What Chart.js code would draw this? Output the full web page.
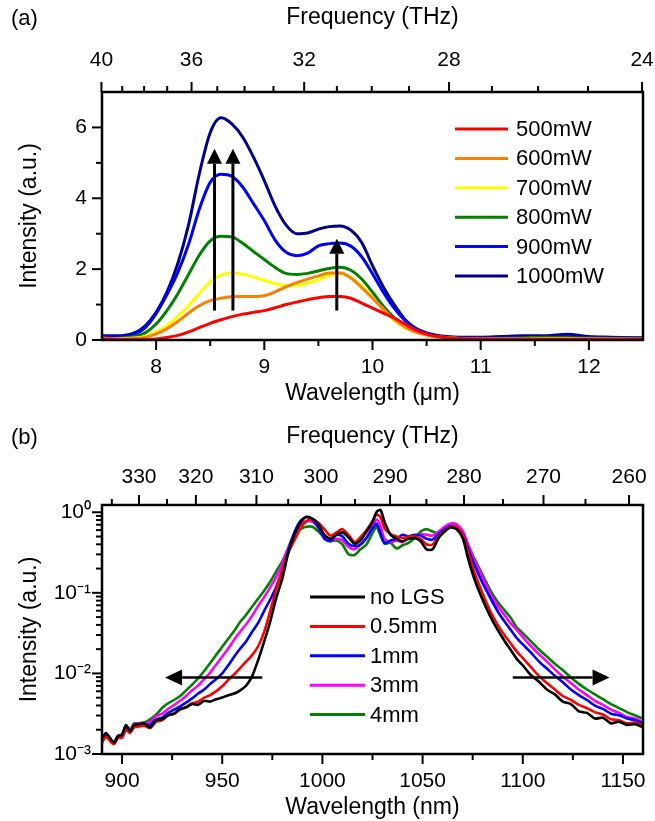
<!DOCTYPE html>
<html>
<head>
<meta charset="utf-8">
<script src="https://cdn.jsdelivr.net/npm/chart.js@4.4.1/dist/chart.umd.min.js"></script>
<style>
  html, body { margin: 0; padding: 0; background: #fff; }
  #page { position: relative; width: 655px; height: 821px; overflow: hidden; background: #fff; }
  #page canvas { position: absolute; left: 0; }
  #ca { top: 0; }
  #cb { top: 420px; }
  .tag { position: absolute; font-family: 'Liberation Sans', Arial, sans-serif; font-size: 22px; color: #000; line-height: 1; }
</style>
</head>
<body>
<div id="page">
  <canvas id="ca" width="655" height="420"></canvas>
  <canvas id="cb" width="655" height="401"></canvas>
  <div class="tag" style="left:11px;top:7px">(a)</div>
  <div class="tag" style="left:11px;top:426px">(b)</div>
</div>
<script>
// ---------- Panel (a): mid-IR spectra vs. pump power ----------
const wavelengthUm = [7.5, 7.6, 7.7, 7.8, 7.9, 8.0, 8.1, 8.2, 8.3, 8.4, 8.5, 8.6, 8.7, 8.8, 8.9, 9.0, 9.1, 9.2, 9.3, 9.4,
  9.5, 9.6, 9.7, 9.8, 9.9, 10.0, 10.1, 10.2, 10.3, 10.4, 10.5, 10.6, 10.8, 11.0, 11.2, 11.4, 11.6, 11.8, 12.0, 12.2, 12.5];
const powerLabels = ['500mW', '600mW', '700mW', '800mW', '900mW', '1000mW'];
const p500 = [0.03, 0.02, 0.01, 0.01, 0.01, 0.03, 0.07, 0.13, 0.23, 0.35, 0.47, 0.57, 0.66, 0.73, 0.78, 0.83, 0.91, 1.00, 1.07, 1.14,
  1.19, 1.23, 1.23, 1.18, 1.04, 0.90, 0.76, 0.62, 0.45, 0.28, 0.17, 0.10, 0.04, 0.03, 0.02, 0.02, 0.02, 0.02, 0.02, 0.02, 0.02];
const p600 = [0.06, 0.04, 0.03, 0.04, 0.07, 0.17, 0.32, 0.52, 0.76, 0.97, 1.11, 1.18, 1.22, 1.23, 1.23, 1.25, 1.36, 1.50, 1.62, 1.72,
  1.81, 1.89, 1.89, 1.75, 1.48, 1.18, 0.87, 0.58, 0.37, 0.22, 0.14, 0.09, 0.04, 0.03, 0.02, 0.02, 0.03, 0.03, 0.02, 0.02, 0.02];
const p700 = [0.03, 0.03, 0.04, 0.06, 0.10, 0.22, 0.40, 0.67, 0.97, 1.32, 1.65, 1.83, 1.90, 1.86, 1.78, 1.68, 1.59, 1.54, 1.54, 1.60,
  1.70, 1.82, 1.87, 1.76, 1.52, 1.20, 0.86, 0.55, 0.35, 0.22, 0.13, 0.08, 0.04, 0.03, 0.03, 0.03, 0.04, 0.04, 0.03, 0.03, 0.02];
const p800 = [0.04, 0.04, 0.06, 0.10, 0.20, 0.45, 0.83, 1.30, 1.85, 2.40, 2.80, 2.93, 2.91, 2.73, 2.50, 2.27, 2.05, 1.88, 1.85, 1.88,
  1.95, 2.02, 2.05, 1.97, 1.72, 1.35, 0.95, 0.63, 0.40, 0.24, 0.15, 0.10, 0.05, 0.03, 0.04, 0.06, 0.08, 0.07, 0.05, 0.04, 0.03];
const p900 = [0.10, 0.09, 0.10, 0.16, 0.35, 0.74, 1.28, 1.90, 2.70, 3.70, 4.45, 4.68, 4.62, 4.32, 3.85, 3.37, 2.82, 2.48, 2.38, 2.45,
  2.66, 2.72, 2.74, 2.65, 2.35, 1.87, 1.35, 0.90, 0.55, 0.32, 0.17, 0.10, 0.07, 0.06, 0.07, 0.08, 0.08, 0.09, 0.07, 0.06, 0.05];
const p1000 = [0.12, 0.12, 0.13, 0.20, 0.40, 0.78, 1.35, 2.15, 3.25, 4.70, 5.85, 6.27, 6.10, 5.73, 5.16, 4.50, 3.78, 3.25, 3.00, 3.02,
  3.13, 3.20, 3.22, 3.10, 2.75, 2.10, 1.50, 1.00, 0.58, 0.33, 0.20, 0.13, 0.08, 0.08, 0.10, 0.12, 0.12, 0.16, 0.10, 0.08, 0.06];
const powerColors = ['#ff0000', '#ff8000', '#ffff00', '#008000', '#0000ff', '#00008b'];
const powerSeries = [p500, p600, p700, p800, p900, p1000];

// top axis of (a): frequency ticks in THz
const freqTicksA = [40, 39, 38, 37, 36, 35, 34, 33, 32, 31, 30, 29, 28, 27, 26, 25, 24];
const freqLabelsA = [40, 36, 32, 28, 24];
// growth arrows of (a): [wavelength, from, to]
const arrowsA = [[8.54, 0.83, 5.4], [8.71, 0.83, 5.4], [9.67, 0.83, 2.86]];

// ---------- Panel (b): near-IR spectra with LGS crystal length ----------
const wavelengthNm = [890, 892, 894, 896, 898, 900, 902, 904, 906, 908, 911, 914, 917, 920, 923, 926, 929, 932, 935, 938,
  941, 944, 947, 950, 953, 956, 959, 962, 965, 968, 971, 974, 977, 980, 983, 986, 989, 992, 995, 998,
  1001, 1004, 1007, 1010, 1013, 1016, 1019, 1022, 1025, 1027, 1029, 1031, 1034, 1037, 1040, 1043, 1046, 1049, 1052, 1055,
  1058, 1061, 1064, 1067, 1070, 1073, 1076, 1079, 1082, 1085, 1088, 1091, 1094, 1097, 1100, 1104, 1108, 1112, 1116, 1120,
  1124, 1128, 1132, 1136, 1140, 1144, 1148, 1152, 1156, 1160];
const lgsLabels = ['no LGS', '0.5mm', '1mm', '3mm', '4mm'];
// intensities stored as log10 values
const log10NoLGS = [-2.80, -2.74, -2.80, -2.86, -2.78, -2.76, -2.64, -2.72, -2.64, -2.63,
  -2.62, -2.67, -2.58, -2.57, -2.52, -2.50, -2.44, -2.42, -2.38, -2.39,
  -2.34, -2.35, -2.32, -2.30, -2.27, -2.25, -2.21, -2.15, -2.03, -1.83,
  -1.60, -1.35, -1.06, -0.82, -0.50, -0.28, -0.13, -0.06, -0.08, -0.15,
  -0.28, -0.33, -0.28, -0.25, -0.31, -0.39, -0.35, -0.24, -0.12, 0.00,
  0.03, -0.12, -0.28, -0.33, -0.36, -0.33, -0.32, -0.36, -0.46, -0.46,
  -0.32, -0.24, -0.19, -0.21, -0.32, -0.60, -0.84, -1.03, -1.20, -1.35,
  -1.48, -1.60, -1.71, -1.82, -1.90, -2.02, -2.10, -2.20, -2.26, -2.35,
  -2.38, -2.47, -2.49, -2.56, -2.55, -2.62, -2.60, -2.64, -2.63, -2.67];
const log10L05 = [-2.86, -2.79, -2.84, -2.88, -2.80, -2.80, -2.70, -2.74, -2.67, -2.66,
  -2.65, -2.68, -2.60, -2.58, -2.52, -2.50, -2.45, -2.42, -2.37, -2.35,
  -2.30, -2.27, -2.22, -2.16, -2.08, -2.01, -1.93, -1.85, -1.77, -1.66,
  -1.48, -1.22, -0.95, -0.72, -0.50, -0.35, -0.20, -0.11, -0.09, -0.13,
  -0.21, -0.29, -0.25, -0.21, -0.28, -0.37, -0.31, -0.22, -0.11, -0.03,
  -0.06, -0.20, -0.27, -0.30, -0.32, -0.30, -0.30, -0.33, -0.40, -0.40,
  -0.30, -0.23, -0.18, -0.19, -0.28, -0.52, -0.76, -0.95, -1.13, -1.29,
  -1.42, -1.53, -1.63, -1.73, -1.81, -1.92, -2.03, -2.12, -2.20, -2.28,
  -2.33, -2.39, -2.43, -2.48, -2.51, -2.57, -2.58, -2.62, -2.61, -2.65];
const log10L1 = [-2.81, -2.76, -2.82, -2.86, -2.78, -2.77, -2.66, -2.72, -2.65, -2.64,
  -2.63, -2.64, -2.57, -2.55, -2.49, -2.45, -2.41, -2.36, -2.31, -2.25,
  -2.20, -2.13, -2.07, -2.00, -1.90, -1.79, -1.69, -1.60, -1.48, -1.37,
  -1.22, -1.08, -0.92, -0.72, -0.47, -0.25, -0.11, -0.06, -0.09, -0.19,
  -0.33, -0.36, -0.28, -0.30, -0.39, -0.42, -0.40, -0.32, -0.20, -0.14,
  -0.26, -0.38, -0.35, -0.33, -0.28, -0.30, -0.28, -0.29, -0.33, -0.34,
  -0.27, -0.21, -0.17, -0.20, -0.27, -0.47, -0.66, -0.83, -0.98, -1.12,
  -1.25, -1.36, -1.46, -1.56, -1.64, -1.74, -1.85, -1.94, -2.03, -2.11,
  -2.20, -2.27, -2.33, -2.40, -2.44, -2.50, -2.52, -2.56, -2.58, -2.62];
const log10L3 = [-2.82, -2.76, -2.82, -2.85, -2.77, -2.76, -2.65, -2.70, -2.63, -2.62,
  -2.62, -2.60, -2.53, -2.50, -2.44, -2.39, -2.34, -2.28, -2.21, -2.15,
  -2.07, -1.99, -1.89, -1.79, -1.69, -1.58, -1.48, -1.39, -1.28, -1.16,
  -1.05, -0.93, -0.80, -0.64, -0.44, -0.27, -0.15, -0.11, -0.12, -0.19,
  -0.29, -0.35, -0.33, -0.35, -0.43, -0.46, -0.40, -0.32, -0.17, -0.09,
  -0.17, -0.33, -0.37, -0.35, -0.37, -0.31, -0.30, -0.27, -0.28, -0.29,
  -0.24, -0.18, -0.14, -0.15, -0.23, -0.42, -0.60, -0.76, -0.92, -1.07,
  -1.18, -1.28, -1.38, -1.46, -1.55, -1.66, -1.76, -1.85, -1.95, -2.04,
  -2.12, -2.20, -2.27, -2.34, -2.39, -2.45, -2.49, -2.54, -2.56, -2.60];
const log10L4 = [-2.80, -2.76, -2.83, -2.87, -2.78, -2.76, -2.65, -2.70, -2.62, -2.62,
  -2.61, -2.57, -2.51, -2.43, -2.37, -2.33, -2.28, -2.21, -2.14, -2.06,
  -1.97, -1.87, -1.77, -1.67, -1.57, -1.47, -1.36, -1.27, -1.17, -1.07,
  -0.97, -0.86, -0.73, -0.61, -0.44, -0.27, -0.21, -0.18, -0.18, -0.24,
  -0.31, -0.36, -0.35, -0.40, -0.52, -0.53, -0.46, -0.40, -0.26, -0.18,
  -0.29, -0.39, -0.38, -0.45, -0.41, -0.38, -0.32, -0.24, -0.21, -0.24,
  -0.26, -0.22, -0.17, -0.17, -0.26, -0.43, -0.58, -0.73, -0.88, -1.02,
  -1.13, -1.22, -1.31, -1.43, -1.50, -1.60, -1.70, -1.79, -1.88, -1.96,
  -2.05, -2.13, -2.20, -2.26, -2.32, -2.38, -2.43, -2.48, -2.52, -2.56];
const lgsColors = ['#000000', '#ff0000', '#0000ff', '#ff00ff', '#008000'];
const lgsSeries = [log10NoLGS, log10L05, log10L1, log10L3, log10L4];

// top axis of (b): frequency ticks in THz
const freqTicksB = [335, 330, 325, 320, 315, 310, 305, 300, 295, 290, 285, 280, 275, 270, 265, 260];
const freqLabelsB = [330, 320, 310, 300, 290, 280, 270, 260];
// broadening arrows of (b): [y level, from wavelength, to wavelength]
const arrowsB = [[0.0089, 970, 921.5], [0.0089, 1095, 1143.3]];

// ---------- shared styling ----------
const FONT = "'Liberation Sans', Arial, sans-serif";
Chart.defaults.font.family = FONT;
Chart.defaults.color = '#000';
Chart.defaults.animation = false;
const TICK_FONT = { size: 21 };
const TITLE_FONT = { size: 23 };
const C_THZ_UM = 299.792458;     // THz * um
const C_THZ_NM = 299792.458;     // THz * nm
const NO_GRID = { display: false, drawTicks: false };

// tick marks (major longer than minor) and the closed plot frame
const axisFrame = {
  id: 'axisFrame',
  afterDatasetsDraw(chart) {
    const { ctx, chartArea: a } = chart;
    ctx.save();
    ctx.strokeStyle = '#000';
    Object.values(chart.scales).forEach(s => {
      s.ticks.forEach(t => {
        const p = s.getPixelForValue(t.value);
        const len = t.major ? 10 : 6;
        ctx.lineWidth = 2;
        ctx.beginPath();
        if (s.position === 'bottom') { ctx.moveTo(p, a.bottom); ctx.lineTo(p, a.bottom + len); }
        else if (s.position === 'top') { ctx.moveTo(p, a.top); ctx.lineTo(p, a.top - len); }
        else if (s.position === 'left') { ctx.moveTo(a.left, p); ctx.lineTo(a.left - len, p); }
        ctx.stroke();
      });
    });
    ctx.lineWidth = 2.5;
    ctx.strokeRect(a.left, a.top, a.right - a.left, a.bottom - a.top);
    ctx.restore();
  }
};

// legend drawn inside the plot area
const insideLegend = {
  id: 'insideLegend',
  afterDraw(chart, args, o) {
    const { ctx, chartArea: a } = chart;
    ctx.save();
    ctx.font = o.fontSize + 'px ' + FONT;
    ctx.textBaseline = 'middle';
    ctx.textAlign = 'left';
    chart.data.datasets.forEach((ds, i) => {
      const y = a.top + o.top + i * o.rowGap;
      const x0 = a.left + o.left;
      ctx.strokeStyle = ds.borderColor;
      ctx.lineWidth = o.lineWidth;
      ctx.beginPath(); ctx.moveTo(x0, y); ctx.lineTo(x0 + o.lineLen, y); ctx.stroke();
      ctx.fillStyle = '#000';
      ctx.fillText(ds.label, x0 + o.lineLen + o.gap, y + 1);
    });
    ctx.restore();
  }
};

// solid black arrows placed in data coordinates
function drawArrow(ctx, x0, y0, x1, y1, shaft, headLen, headW) {
  const ang = Math.atan2(y1 - y0, x1 - x0);
  const bx = x1 - headLen * Math.cos(ang), by = y1 - headLen * Math.sin(ang);
  ctx.lineWidth = shaft;
  ctx.beginPath(); ctx.moveTo(x0, y0); ctx.lineTo(bx, by); ctx.stroke();
  const nx = -Math.sin(ang) * headW / 2, ny = Math.cos(ang) * headW / 2;
  ctx.beginPath();
  ctx.moveTo(x1, y1); ctx.lineTo(bx + nx, by + ny); ctx.lineTo(bx - nx, by - ny); ctx.closePath();
  ctx.fill();
}
const arrowLayer = {
  id: 'arrowLayer',
  afterDatasetsDraw(chart, args, o) {
    const { ctx } = chart;
    const xs = chart.scales.x, ys = chart.scales.y;
    ctx.save();
    ctx.strokeStyle = '#000'; ctx.fillStyle = '#000';
    o.items.forEach(([x0, y0, x1, y1]) => {
      drawArrow(ctx, xs.getPixelForValue(x0), ys.getPixelForValue(y0),
        xs.getPixelForValue(x1), ys.getPixelForValue(y1), o.shaft, o.headLen, o.headW);
    });
    ctx.restore();
  }
};

function fixSize(prop, v) {
  return s => { s[prop] = v; s.paddingLeft = 0; s.paddingRight = 0; s.paddingTop = 0; s.paddingBottom = 0; };
}

// ---------- chart (a) ----------
new Chart(document.getElementById('ca'), {
  type: 'line',
  data: {
    datasets: powerSeries.map((vals, i) => ({
      label: powerLabels[i],
      data: wavelengthUm.map((x, k) => ({ x, y: vals[k] })),
      borderColor: powerColors[i],
      borderWidth: 3,
      pointRadius: 0,
      tension: 0.4,
      cubicInterpolationMode: 'monotone',
      fill: false
    }))
  },
  options: {
    responsive: false,
    layout: { padding: { left: 0, right: 12, top: 0, bottom: 0 } },
    plugins: {
      legend: { display: false }, tooltip: { enabled: false },
      insideLegend: { left: 353, top: 37, rowGap: 29.4, lineLen: 53, gap: 8, lineWidth: 3, fontSize: 22 },
      arrowLayer: { items: arrowsA.map(([x, a, b]) => [x, a, x, b]), shaft: 3, headLen: 15, headW: 15 }
    },
    scales: {
      x: {
        type: 'linear', position: 'bottom', min: 7.5, max: 12.5,
        grid: NO_GRID, border: { display: false },
        afterBuildTicks: s => { s.ticks = [8, 8.5, 9, 9.5, 10, 10.5, 11, 11.5, 12].map(v => ({ value: v, major: Number.isInteger(v) })); },
        ticks: { autoSkip: false, maxRotation: 0, padding: 15, font: TICK_FONT,
          callback: (v, i, t) => t[i].major ? String(v) : '' },
        title: { display: true, text: 'Wavelength (\u03bcm)', font: TITLE_FONT, padding: { top: 0, bottom: 13 } },
        afterFit: fixSize('height', 80)
      },
      xTop: {
        type: 'linear', position: 'top', min: 7.5, max: 12.5,
        grid: NO_GRID, border: { display: false },
        afterBuildTicks: s => { s.ticks = freqTicksA.map(f => ({ value: C_THZ_UM / f, freq: f, major: freqLabelsA.includes(f) })); },
        ticks: { autoSkip: false, maxRotation: 0, padding: 19, font: TICK_FONT,
          callback: (v, i, t) => t[i].major ? String(t[i].freq) : '' },
        title: { display: true, text: 'Frequency (THz)', font: TITLE_FONT, padding: { top: 4, bottom: 0 } },
        afterFit: fixSize('height', 92)
      },
      y: {
        type: 'linear', position: 'left', min: 0, max: 7,
        grid: NO_GRID, border: { display: false },
        afterBuildTicks: s => { s.ticks = [0, 1, 2, 3, 4, 5, 6].map(v => ({ value: v, major: v % 2 === 0 })); },
        ticks: { autoSkip: false, padding: 15, font: TICK_FONT,
          callback: (v, i, t) => t[i].major ? String(v) : '' },
        title: { display: true, text: 'Intensity (a.u.)', font: TITLE_FONT, padding: { top: 16, bottom: 0 } },
        afterFit: fixSize('width', 102)
      }
    }
  },
  plugins: [axisFrame, insideLegend, arrowLayer]
});

// ---------- chart (b) ----------
const SUP = { '0': '\u2070', '1': '\u00b9', '2': '\u00b2', '3': '\u00b3', '-': '\u207b' };
const decadeLabel = v => '10' + String(Math.round(Math.log10(v))).split('').map(c => SUP[c]).join('');
const logTicks = [];
[0.001, 0.01, 0.1].forEach(d => { for (let m = 1; m <= 9; m++) logTicks.push({ value: +(m * d).toPrecision(3), major: m === 1 }); });
logTicks.push({ value: 1, major: true });

new Chart(document.getElementById('cb'), {
  type: 'line',
  data: {
    datasets: lgsSeries.map((vals, i) => ({
      label: lgsLabels[i],
      data: wavelengthNm.map((x, k) => ({ x, y: Math.pow(10, vals[k]) })),
      borderColor: lgsColors[i],
      borderWidth: 2.6,
      pointRadius: 0,
      tension: 0.25,
      fill: false
    }))
  },
  options: {
    responsive: false,
    layout: { padding: { left: 0, right: 12, top: 0, bottom: 0 } },
    plugins: {
      legend: { display: false }, tooltip: { enabled: false },
      insideLegend: { left: 208, top: 92, rowGap: 29.4, lineLen: 55, gap: 5, lineWidth: 3, fontSize: 22 },
      arrowLayer: { items: arrowsB.map(([y, a, b]) => [a, y, b, y]), shaft: 2.6, headLen: 17, headW: 16 }
    },
    scales: {
      x: {
        type: 'linear', position: 'bottom', min: 890, max: 1160,
        grid: NO_GRID, border: { display: false },
        afterBuildTicks: s => { s.ticks = [900, 925, 950, 975, 1000, 1025, 1050, 1075, 1100, 1125, 1150].map(v => ({ value: v, major: v % 50 === 0 })); },
        ticks: { autoSkip: false, maxRotation: 0, padding: 15, font: TICK_FONT,
          callback: (v, i, t) => t[i].major ? String(v) : '' },
        title: { display: true, text: 'Wavelength (nm)', font: TITLE_FONT, padding: { top: 0, bottom: 0 } },
        afterFit: fixSize('height', 67)
      },
      xTop: {
        type: 'linear', position: 'top', min: 890, max: 1160,
        grid: NO_GRID, border: { display: false },
        afterBuildTicks: s => { s.ticks = freqTicksB.map(f => ({ value: C_THZ_NM / f, freq: f, major: freqLabelsB.includes(f) })); },
        ticks: { autoSkip: false, maxRotation: 0, padding: 15, font: TICK_FONT,
          callback: (v, i, t) => t[i].major ? String(t[i].freq) : '' },
        title: { display: true, text: 'Frequency (THz)', font: TITLE_FONT, padding: { top: 3, bottom: 0 } },
        afterFit: fixSize('height', 85)
      },
      y: {
        type: 'logarithmic', position: 'left', min: 0.001, max: 1.23,
        grid: NO_GRID, border: { display: false },
        afterBuildTicks: s => { s.ticks = logTicks.map(t => ({ ...t })); },
        ticks: { autoSkip: false, padding: 11, font: TICK_FONT,
          callback: (v, i, t) => t[i].major ? decadeLabel(v) : '' },
        title: { display: true, text: 'Intensity (a.u.)', font: TITLE_FONT, padding: { top: 16, bottom: 0 } },
        afterFit: fixSize('width', 102)
      }
    }
  },
  plugins: [axisFrame, insideLegend, arrowLayer]
});
</script>
</body>
</html>
